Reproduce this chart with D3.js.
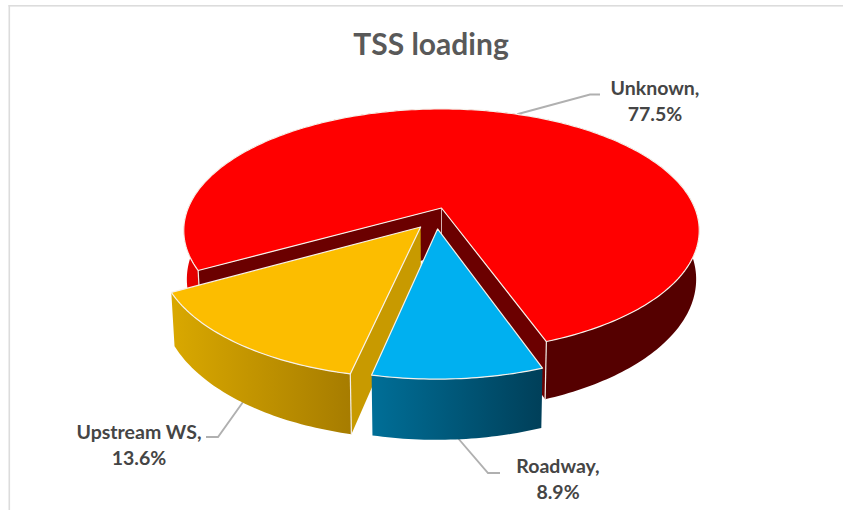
<!DOCTYPE html>
<html><head><meta charset="utf-8">
<script src="https://cdn.jsdelivr.net/npm/d3@7/dist/d3.min.js"></script>
<style>html,body{margin:0;padding:0;background:#fff}svg{display:block}</style>
</head><body><svg id="c" width="843" height="510"></svg>
<script>
const categories = ["Unknown", "Roadway", "Upstream WS"];
const shares = [77.5, 8.9, 13.6];
const labelTexts = ["77.5%", "8.9%", "13.6%"];
const titleText = "TSS loading";

(function () {
const svg = d3.select("#c");
const rad = d => d * Math.PI / 180;
const pie = d3.pie().sort(null).startAngle(rad(241)).endAngle(rad(241 + 360));
const arcs = pie(shares);

// perspective view of the pie plane
const cx = 441.5, cy = 208, a = 253.3, b = 117.4, k = 0.185, depth = 47, grow = 1.08, narrow = 0.988;
function topP(x, y)  { const w = 1 - k * y; return [cx + a * x / w, cy + b * y / w]; }
function baseP(x, y) { const w = 1 - k * y; return [cx + a * narrow * x / w, cy + depth + b * grow * y / w]; }

const styles = [
  { off: [0, 0],          r: 1,     fill: "#ff0000", stops: ["#e80000", "#550000"], grad: [184, 545], cut: "#6b0000" },
  { off: [-0.015, 0.173], r: 0.975, fill: "#00b0f0", stops: ["#006f98", "#00405a"], grad: [370, 540], cut: "#004a66" },
  { off: [-0.08, 0.157],  r: 0.985, fill: "#fcbd00", stops: ["#d9a800", "#a67c00"], grad: [172, 352], cut: "#c89a00" }
];

const defs = svg.append("defs");
const line = d3.line();
const pt = (s, th, r) => [s.off[0] + r * Math.sin(th), s.off[1] - r * Math.cos(th)];

function rim(s, d, proj) {
  const n = Math.max(8, Math.ceil((d.endAngle - d.startAngle) / rad(1)));
  return d3.range(n + 1).map(i => proj(...pt(s, d.startAngle + (d.endAngle - d.startAngle) * i / n, s.r)));
}

svg.append("rect").attr("x", 8.5).attr("y", 5).attr("width", 835).attr("height", 1.6).attr("fill", "#dcdcdc");
svg.append("rect").attr("x", 8.5).attr("y", 5).attr("width", 1.6).attr("height", 505).attr("fill", "#dcdcdc");

function drawWall(i) {
  const d = arcs[i], s = styles[i];
  const id = "g" + i;
  const g = defs.append("linearGradient").attr("id", id).attr("gradientUnits", "userSpaceOnUse")
    .attr("x1", s.grad[0]).attr("x2", s.grad[1]).attr("y1", 0).attr("y2", 0);
  g.append("stop").attr("offset", 0).attr("stop-color", s.stops[0]);
  g.append("stop").attr("offset", 1).attr("stop-color", s.stops[1]);
  const t = rim(s, d, topP), bt = rim(s, d, baseP);
  svg.append("path").attr("d", line(t.concat(bt.reverse())) + "Z").attr("fill", `url(#${id})`);
}
function drawCut(i, th, edge) {
  const s = styles[i];
  const A = topP(...s.off), B = topP(...pt(s, th, s.r)), C = baseP(...pt(s, th, s.r)), D = baseP(...s.off);
  svg.append("path").attr("d", line([A, B, C, D]) + "Z").attr("fill", s.cut);
  if (edge) svg.append("path").attr("d", line([A, D])).attr("stroke", "#e8d0d0").attr("stroke-width", 0.8).attr("fill", "none");
}
function drawTop(i) {
  const d = arcs[i], s = styles[i];
  const pts = [topP(...s.off)].concat(rim(s, d, topP));
  svg.append("path").attr("d", line(pts) + "Z").attr("fill", s.fill)
    .attr("stroke", "#f6f1ea").attr("stroke-width", 1.2).attr("stroke-linejoin", "round");
}
function edgeLine(i, th) {
  const s = styles[i];
  svg.append("path").attr("d", line([topP(...pt(s, th, s.r)), baseP(...pt(s, th, s.r))]))
    .attr("stroke", "#f1ece6").attr("stroke-width", 1.2).attr("fill", "none");
}

// leader lines sit under the slices
const leaderColor = "#b0b0b0";
function leader(points) {
  svg.append("path").attr("d", line(points)).attr("fill", "none").attr("stroke", leaderColor).attr("stroke-width", 1.9);
}
const mid = d => (d.startAngle + d.endAngle) / 2;
leader([topP(...pt(styles[0], mid(arcs[0]), 1)), [590, 94.5], [600, 94.5]]);
leader([[457, 437], [488, 473], [500, 473]]);
leader([[243, 402], [218, 437], [206, 437]]);

// Unknown
drawWall(0);
drawCut(0, arcs[0].startAngle, false);
drawCut(0, arcs[0].endAngle, true);
edgeLine(0, arcs[0].endAngle);
edgeLine(0, arcs[0].startAngle);
drawTop(0);
// Upstream WS
drawCut(2, arcs[2].startAngle, false);
drawWall(2);
edgeLine(2, arcs[2].startAngle);
drawTop(2);
// Roadway
drawWall(1);
drawTop(1);

// text
const font = "Lato, Carlito, 'Open Sans', sans-serif";
svg.append("text").attr("x", 431).attr("y", 55).attr("text-anchor", "middle")
  .attr("font-family", font).attr("font-weight", 700).attr("font-size", 30).attr("fill", "#595959").text(titleText);

const labelPos = [[655, 95], [558, 473], [139, 438.5]];
categories.forEach((c, i) => {
  const t = svg.append("text").attr("text-anchor", "middle").attr("font-family", font)
    .attr("font-weight", 700).attr("font-size", 19.5).attr("fill", "#454545");
  t.append("tspan").attr("x", labelPos[i][0]).attr("y", labelPos[i][1]).text(c + ",");
  t.append("tspan").attr("x", labelPos[i][0]).attr("y", labelPos[i][1] + 26).text(labelTexts[i]);
});
})();
</script></body></html>
